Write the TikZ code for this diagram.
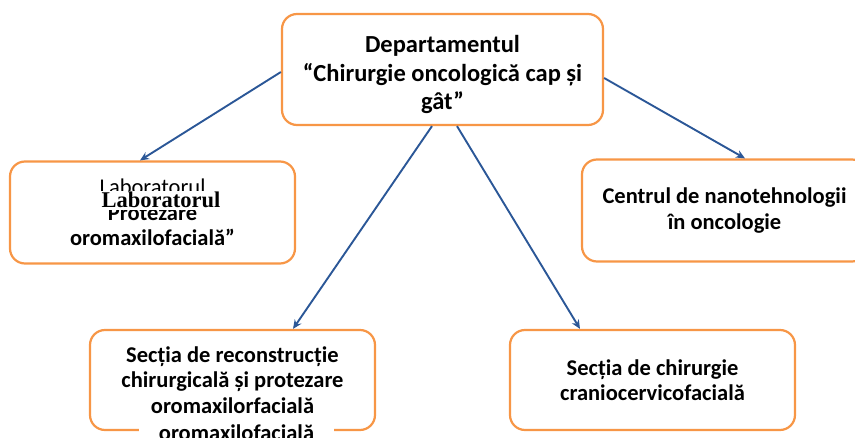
\documentclass[tikz,border=0pt]{standalone}
\usepackage{fontspec}
\setmainfont{Carlito}
\newfontfamily\serifbold{Liberation Serif}
\usetikzlibrary{arrows.meta}
\definecolor{boxorange}{HTML}{F79646}
\definecolor{linkblue}{HTML}{2B5797}
\begin{document}
\begin{tikzpicture}[x=1pt, y=-1pt,
	unit/.style={draw=boxorange, line width=2.2pt, rounded corners=15pt, fill=white,
		minimum width=285pt, minimum height=102pt, align=center,
		font=\bfseries\fontsize{22.5}{25.5}\selectfont},
	patch/.style={fill=white, inner xsep=1pt, inner ysep=1.5pt, anchor=base},
	link/.style={-{Stealth[length=9pt, width=8pt]}, linkblue, line width=1.9pt}]
	\useasboundingbox (0,0) rectangle (855,438);
	\node[unit, minimum width=321pt, minimum height=111pt, font=\bfseries\fontsize{24.5}{28.5}\selectfont] (dept) at (442.5,69.5)
		{\rule{0pt}{28pt}Departamentul\\“Chirurgie oncologică cap și\\gât”};
	\node[unit] (lab) at (152.5,212.5) {{\mdseries Laboratorul}\\Protezare\\oromaxilofacială”};
	\node[unit] (nano) at (724.5,210.5) {Centrul de nanotehnologii\\în oncologie};
	\node[unit, minimum height=100pt] (reco) at (232.5,380) {Secția de reconstrucție\\chirurgicală și protezare\\oromaxilorfacială};
	\node[unit, minimum height=100pt] (cran) at (652.5,380) {Secția de chirurgie\\craniocervicofacială};
	\node[patch, font=\serifbold\bfseries\fontsize{22.5}{22.5}\selectfont] (labx) at (161,208) {Laboratorul};
	\node[patch, inner xsep=20pt, font=\bfseries\fontsize{22.5}{25.5}\selectfont] (recox) at (236.5,441) {oromaxilofacială};
	\draw[link] ([yshift=-2.5pt]dept.west) -- ([xshift=-12.5pt]lab.north);
	\draw[link] ([yshift=-8.5pt]dept.east) -- ([xshift=20.5pt]nano.north);
	\draw[link] ([xshift=-10.5pt]dept.south) -- ([xshift=60.5pt]reco.north);
	\draw[link] ([xshift=14.5pt]dept.south) -- ([xshift=-72.5pt]cran.north);
\end{tikzpicture}
\end{document}
